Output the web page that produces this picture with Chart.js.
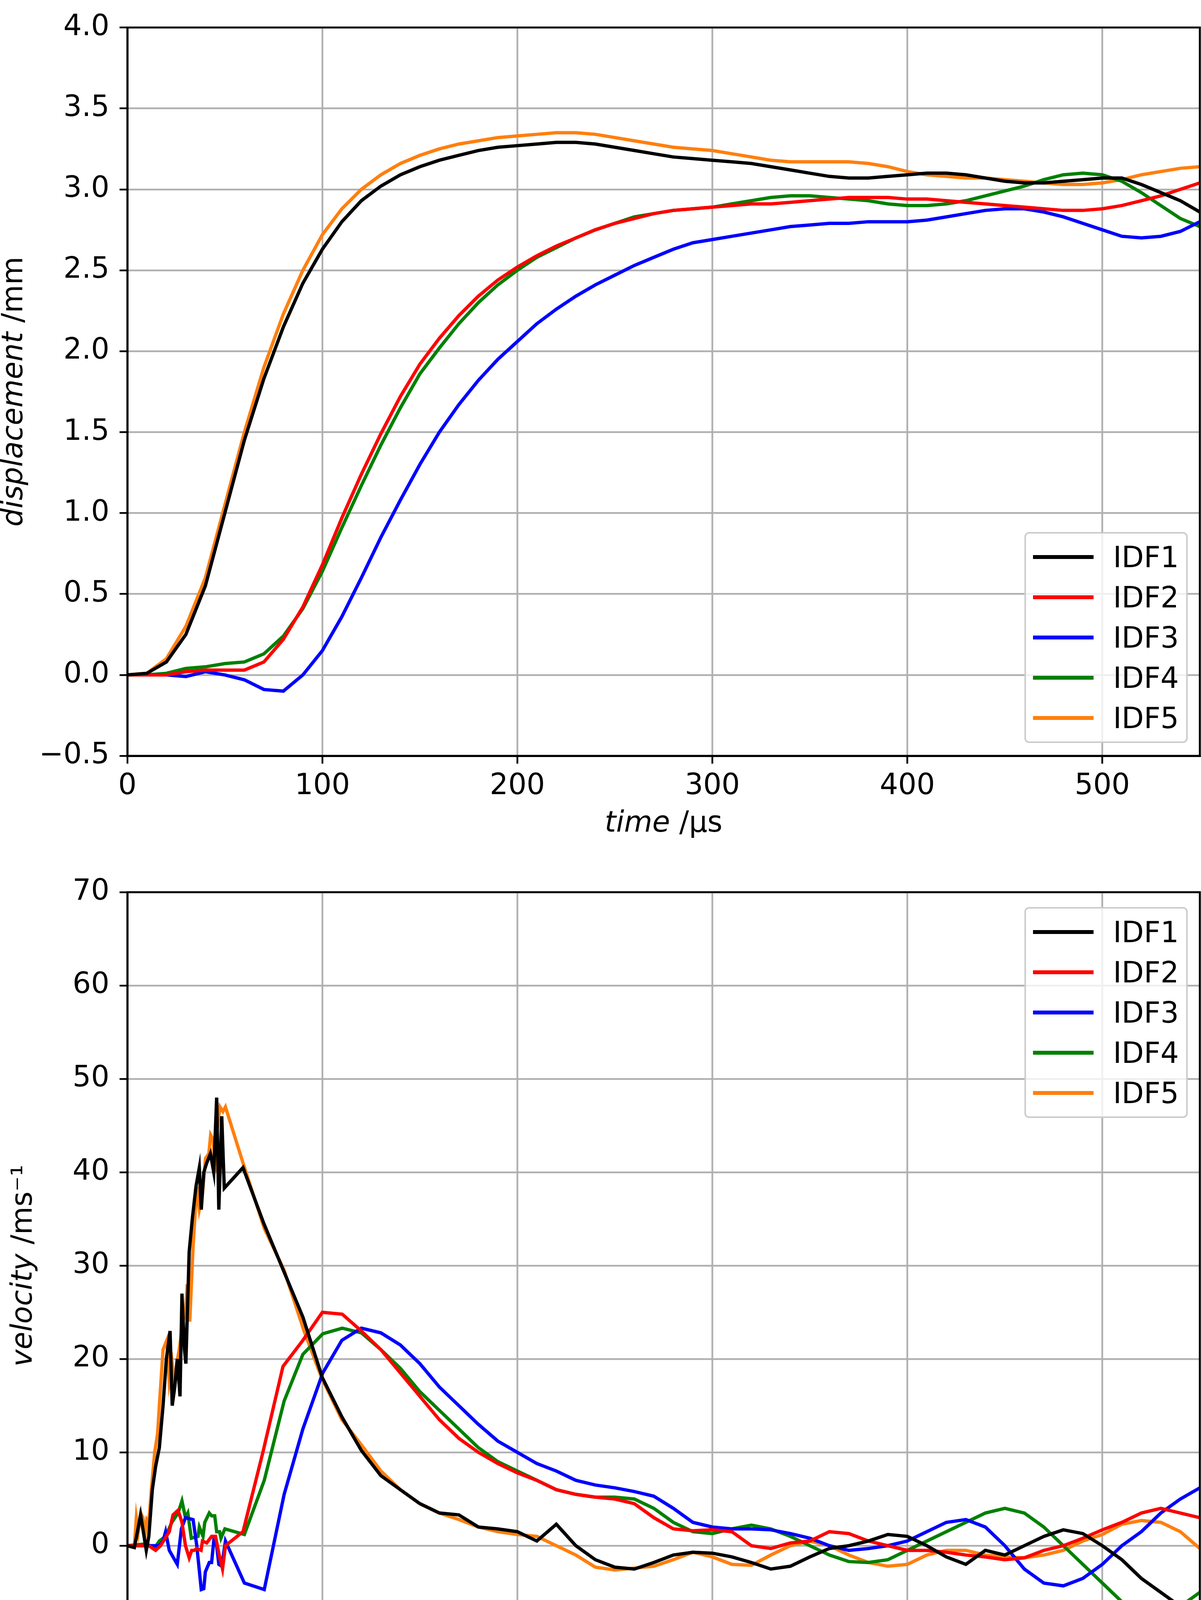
<!DOCTYPE html>
<html><head><meta charset="utf-8">
<script src="https://cdn.jsdelivr.net/npm/chart.js@4"></script>
<style>
html,body{margin:0;padding:0;background:#fff;}
#wrap{position:relative;width:3074px;height:4410px;}
canvas{position:absolute;left:0;}
.leg{position:absolute;border:4px solid #ccc;border-radius:12px;background:rgba(255,255,255,0.8);font-family:"DejaVu Sans";font-size:74px;box-sizing:border-box;padding:8px 0 0 0;}
.leg div{height:103px;display:flex;align-items:center;}
.leg span.l{display:inline-block;width:155px;height:10px;margin:0 50px 0 18px;}
</style></head><body>
<div id="wrap">
<canvas id="c1" style="top:0"></canvas>
<canvas id="c2" style="top:2205px"></canvas>
<div class="leg" style="left:2622px;top:1362px;width:418px;height:540px" id="leg1"></div>
<div class="leg" style="left:2622px;top:2322px;width:418px;height:540px" id="leg2"></div>
</div>
<script>
const names=['IDF1','IDF2','IDF3','IDF4','IDF5'];
const colors=['#000000','#ff0000','#0000ff','#008000','#ff7f0e'];
const xTicks=[0,100,200,300,400,500];
const dispTicks=[-0.5,0,0.5,1.0,1.5,2.0,2.5,3.0,3.5,4.0];
const velTicks=[-10,0,10,20,30,40,50,60,70];
const dispT=[0,10,20,30,40,50,60,70,80,90,100,110,120,130,140,150,160,170,180,190,200,210,220,230,240,250,260,270,280,290,300,310,320,330,340,350,360,370,380,390,400,410,420,430,440,450,460,470,480,490,500,510,520,530,540,550];
const disp1=[0,0.01,0.08,0.25,0.55,1.0,1.45,1.83,2.15,2.42,2.63,2.8,2.93,3.02,3.09,3.14,3.18,3.21,3.24,3.26,3.27,3.28,3.29,3.29,3.28,3.26,3.24,3.22,3.2,3.19,3.18,3.17,3.16,3.14,3.12,3.1,3.08,3.07,3.07,3.08,3.09,3.1,3.1,3.09,3.07,3.05,3.04,3.04,3.05,3.06,3.07,3.07,3.03,2.98,2.93,2.86];
const disp2=[0,0,0,0.02,0.03,0.03,0.03,0.08,0.22,0.42,0.68,0.97,1.24,1.49,1.72,1.92,2.08,2.22,2.34,2.44,2.52,2.59,2.65,2.7,2.75,2.79,2.82,2.85,2.87,2.88,2.89,2.9,2.91,2.91,2.92,2.93,2.94,2.95,2.95,2.95,2.94,2.94,2.93,2.92,2.91,2.9,2.89,2.88,2.87,2.87,2.88,2.9,2.93,2.96,3.0,3.04];
const disp3=[0,0,0,-0.01,0.02,0,-0.03,-0.09,-0.1,0,0.15,0.36,0.6,0.85,1.08,1.3,1.5,1.67,1.82,1.95,2.06,2.17,2.26,2.34,2.41,2.47,2.53,2.58,2.63,2.67,2.69,2.71,2.73,2.75,2.77,2.78,2.79,2.79,2.8,2.8,2.8,2.81,2.83,2.85,2.87,2.88,2.88,2.86,2.83,2.79,2.75,2.71,2.7,2.71,2.74,2.8];
const disp4=[0,0,0.01,0.04,0.05,0.07,0.08,0.13,0.24,0.41,0.64,0.91,1.17,1.42,1.65,1.86,2.02,2.17,2.3,2.41,2.5,2.58,2.64,2.7,2.75,2.79,2.83,2.85,2.87,2.88,2.89,2.91,2.93,2.95,2.96,2.96,2.95,2.94,2.93,2.91,2.9,2.9,2.91,2.93,2.96,2.99,3.02,3.06,3.09,3.1,3.09,3.05,2.98,2.9,2.82,2.77];
const disp5=[0,0.01,0.1,0.3,0.6,1.05,1.5,1.9,2.23,2.5,2.72,2.88,3.0,3.09,3.16,3.21,3.25,3.28,3.3,3.32,3.33,3.34,3.35,3.35,3.34,3.32,3.3,3.28,3.26,3.25,3.24,3.22,3.2,3.18,3.17,3.17,3.17,3.17,3.16,3.14,3.11,3.09,3.08,3.07,3.07,3.06,3.05,3.04,3.03,3.03,3.04,3.06,3.09,3.11,3.13,3.14];
const velLateT=[130,140,150,160,170,180,190,200,210,220,230,240,250,260,270,280,290,300,310,320,330,340,350,360,370,380,390,400,410,420,430,440,450,460,470,480,490,500,510,520,530,540,550];
const vel1T=[0,3.6,6.8,9.7,11,12.8,14.5,16.4,18.3,20,21.9,23,24.3,25.6,27,28,29.3,30,31.7,33.3,35.2,36.9,37.9,39.2,40.7,42.6,44.3,45.8,46.9,48.4,49.7,59.3,70,80,90,100,110,120].concat(velLateT);
const vel1=[0,-0.2,3.3,-0.5,1,6,8.5,10.5,15,20,23,15,17,20,16,27,21,19.5,31.5,35,38.5,40.5,36,40,41,42,40,48,36,46,38.3,40.5,34.5,29.5,24.5,18,13.8,10.2,7.5,6,4.5,3.5,3.3,2,1.8,1.5,0.5,2.3,0,-1.5,-2.3,-2.5,-1.8,-1,-0.7,-0.8,-1.2,-1.8,-2.5,-2.2,-1.2,-0.3,0,0.5,1.2,1,0,-1.2,-2,-0.5,-1,0,1,1.7,1.3,0,-1.5,-3.5,-5,-6.5,-7.3];
const vel2T=[0,11,14.5,17,21.5,23.4,26,28,29.8,31.7,33,34.3,35.6,37.8,38.5,40.7,43.2,45.2,47.1,48.8,50.3,59.3,69.5,79.8,90,100,110.2,120].concat(velLateT);
const vel2=[0,0,-0.5,0,1.5,3.3,3.8,2.5,0,-1.3,-0.5,-0.5,-0.3,-0.5,0.5,0.3,1,1,-1,-2.5,0,1.5,10,19.2,22,25,24.8,23,21,18.5,16,13.5,11.5,10,8.8,7.8,7,6,5.5,5.2,5,4.5,3,1.8,1.6,1.7,1.5,0,-0.3,0.3,0.5,1.5,1.3,0.5,0,-0.5,-0.5,-0.7,-1,-1.2,-1.5,-1.3,-0.5,0,0.8,1.7,2.5,3.5,4,3.5,3];
const vel3T=[0,11,16.4,18.3,19.6,21.5,23.4,25.6,27.7,29.8,33.7,35.6,37.9,39.2,40,42,43.2,44.3,45.8,46.9,48.4,50.3,60,70.2,80.4,90,100.2,110,120].concat(velLateT);
const vel3=[0,0,0,0.5,1.5,-0.5,-1.2,-2,1.8,3,2.8,0,-4.7,-4.6,-2.8,-1.8,-1.8,0.5,0,-2,-2.2,0.5,-4,-4.7,5.5,12.5,18.5,22,23.3,22.8,21.5,19.5,17,15,13,11.2,10,8.8,8,7,6.5,6.2,5.8,5.3,4,2.5,2,1.8,1.8,1.7,1.3,0.8,0,-0.5,-0.3,0,0.5,1.5,2.5,2.8,2,0,-2.5,-4,-4.3,-3.5,-2,0,1.5,3.5,5,6.2];
const vel4T=[0,10,13.8,16.4,19.6,22.8,26,28,29.8,31,32.8,36.2,36.9,38.8,39.7,42,43.2,44.8,45.8,47.3,48,50,60,70.2,80.4,90,100.2,110.2,120].concat(velLateT);
const vel4=[0,0.2,-0.3,0.5,1,2.5,3.5,4.8,3,3.5,0.8,1,2,1,2.5,3.5,3.2,3.2,1.5,1.5,0.8,1.8,1.2,7,15.5,20.5,22.7,23.3,22.8,21,19,16.5,14.5,12.5,10.5,9,8,7,6,5.5,5.2,5.2,5,4,2.5,1.5,1.3,1.8,2.2,1.8,1,0,-1,-1.7,-1.8,-1.5,-0.5,0.5,1.5,2.5,3.5,4,3.5,2,0,-2,-4,-6,-7,-7.3,-6.5,-5];
const vel5T=[0,3.6,4.6,5.6,6.8,8,9,10,11,12.3,14,15.5,16.4,18.3,20.2,21.5,23,24.3,25.3,26.6,28.5,29.8,30.7,32,33.7,35.6,36.9,38.4,40.1,41.8,42.7,44,45,46,47.5,49,50.3,59.3,70.2,80.4,90.6,99.6,110,120].concat(velLateT);
const vel5=[0,0,3,1.5,3.5,3,1,2.8,2.5,6,10,12,15,21,22,17.5,19.5,17,19.5,21,24,25,28,24,32,38.5,36,37.5,41.5,42,44,43.5,40,44.5,47,46.5,47,41,34,29.5,23,18,13.5,10.8,8,6,4.5,3.5,2.8,2,1.5,1.2,1,0,-1,-2.3,-2.6,-2.4,-2.2,-1.5,-0.7,-1.2,-2,-2.1,-1,0,0.5,0,-1,-1.8,-2.2,-2,-1,-0.5,-0.5,-1,-1.2,-1.3,-1,-0.5,0.5,1.2,2.3,2.7,2.5,1.5,-0.3];

const FONT='"DejaVu Sans"';
const FS=74;
function pts(t,v){return t.map((x,i)=>({x:x,y:v[i]}));}
function fmtMinus(s){return String(s).replace('-','\u2212');}
['leg1','leg2'].forEach(id=>{
  const el=document.getElementById(id);
  names.forEach((n,i)=>{el.innerHTML+='<div><span class="l" style="background:'+colors[i]+'"></span>'+n+'</div>';});
});
const frame={id:'frame',afterDraw(c){const a=c.chartArea,x=c.ctx;x.save();x.strokeStyle='#000';x.lineWidth=5;x.strokeRect(a.left,a.top,a.right-a.left,a.bottom-a.top);x.restore();}};
function titles(yIt,yRest,yX,xTitleY){return {id:'titles',afterDraw(c){
  const a=c.chartArea,x=c.ctx;x.save();x.fillStyle='#000';x.textBaseline='middle';
  const fi='italic '+FS+'px '+FONT, fn=FS+'px '+FONT;
  x.font=fi;const w1=x.measureText('time').width;x.font=fn;const w2=x.measureText(' /\u00b5s').width;
  let sx=(a.left+a.right)/2-(w1+w2)/2;
  x.font=fi;x.textAlign='left';x.fillText('time',sx,xTitleY);x.font=fn;x.fillText(' /\u00b5s',sx+w1,xTitleY);
  x.translate(yX,(a.top+a.bottom)/2);x.rotate(-Math.PI/2);
  x.font=fi;const v1=x.measureText(yIt).width;x.font=fn;const v2=x.measureText(yRest).width;
  let sy=-(v1+v2)/2;x.font=fi;x.fillText(yIt,sy,0);x.font=fn;x.fillText(yRest,sy+v1,0);
  x.restore();}};}
function make(id,h,padTop,xAxisH,datasets,ymin,ymax,ystep,yticks,plugins){
  const cv=document.getElementById(id);cv.width=3074;cv.height=h;cv.style.width='3074px';cv.style.height=h+'px';
  return new Chart(cv,{type:'line',data:{datasets:datasets},options:{
    responsive:false,animation:false,devicePixelRatio:1,
    layout:{padding:{top:padTop,right:3,left:0,bottom:0}},
    plugins:{legend:{display:false},tooltip:{enabled:false}},
    elements:{point:{radius:0},line:{borderWidth:8.5,tension:0}},
    scales:{
      x:{type:'linear',min:0,max:550,afterFit(s){s.height=xAxisH;},
        afterBuildTicks(s){s.ticks=xTicks.map(v=>({value:v}));},
        grid:{color:'#b0b0b0',lineWidth:4.5,tickColor:'#000',tickLength:20,drawTicks:true},
        border:{display:true,color:'#000',width:5},
        ticks:{font:{family:FONT,size:FS},color:'#000',padding:14,maxRotation:0,callback:v=>fmtMinus(v)}},
      y:{type:'linear',min:ymin,max:ymax,afterFit(s){s.width=326;},
        afterBuildTicks(s){s.ticks=yticks.map(v=>({value:v}));},
        grid:{color:'#b0b0b0',lineWidth:4.5,tickColor:'#000',tickLength:20,drawTicks:true},
        border:{display:true,color:'#000',width:5},
        ticks:{font:{family:FONT,size:FS},color:'#000',padding:26,callback:v=>fmtMinus(ystep?Number(v).toFixed(1):v)}}
    }},plugins:plugins});
}
const dDisp=[disp1,disp2,disp3,disp4,disp5].map((v,i)=>({label:names[i],data:pts(dispT,v),borderColor:colors[i],fill:false}));
const vT=[vel1T,vel2T,vel3T,vel4T,vel5T],vV=[vel1,vel2,vel3,vel4,vel5];
const dVel=vV.map((v,i)=>({label:names[i],data:pts(vT[i],v),borderColor:colors[i],fill:false}));
make('c1',2205,28,270,dDisp,-0.5,4.0,true,dispTicks,[frame,titles('displacement',' /mm',38,2110)]);
make('c2',2205,79,214,dVel,-10,70,false,velTicks,[frame,titles('velocity',' /ms\u207b\u00b9',62,2163)]);
</script>
</body></html>
